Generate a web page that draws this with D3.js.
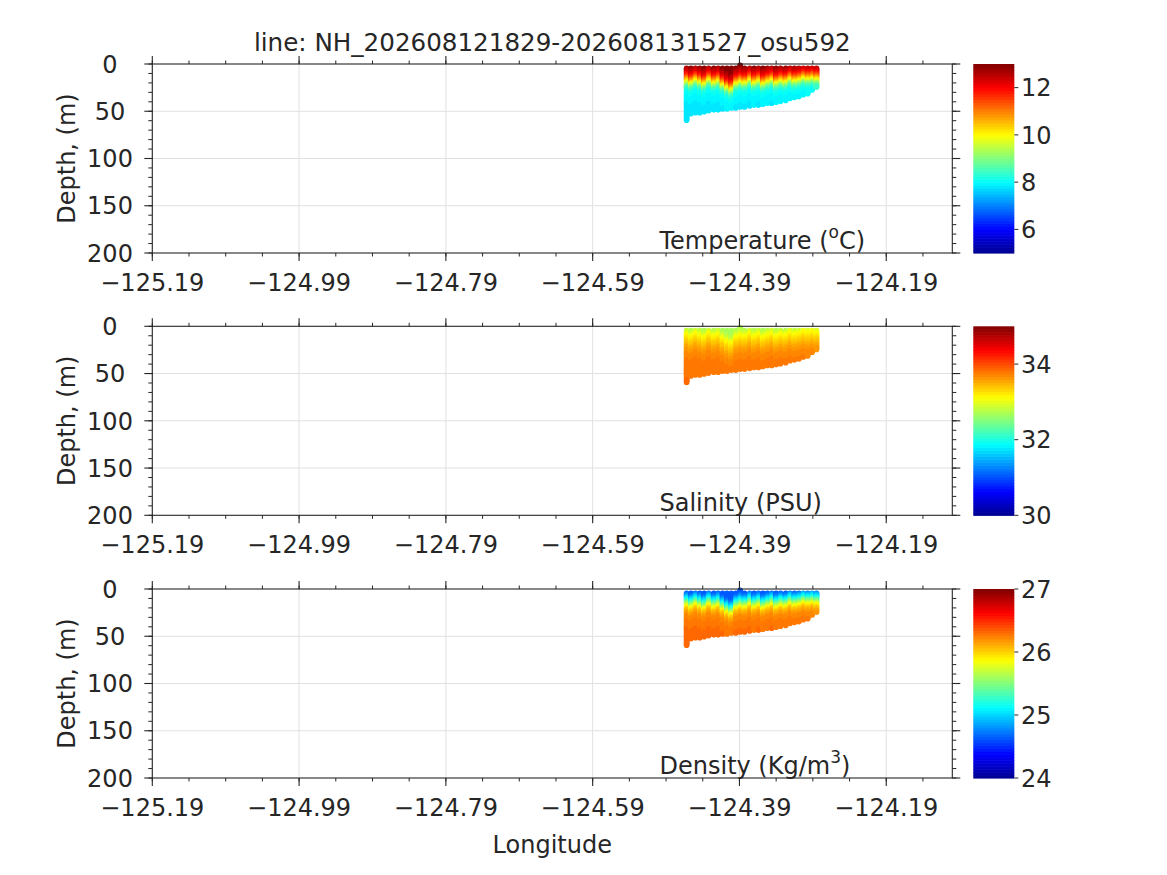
<!DOCTYPE html>
<html><head><meta charset="utf-8">
<script src="https://cdn.jsdelivr.net/npm/d3@7"></script>
<style>
body{margin:0;background:#fff}
svg{display:block;font-family:"DejaVu Sans",sans-serif}
</style>
</head><body>
<svg id="chart" width="1167" height="875"></svg>
<script>
// ---------------- data ----------------
const titleText = "line: NH_202608121829-202608131527_osu592";
const lonTicks = [-125.19, -124.99, -124.79, -124.59, -124.39, -124.19];
const lonDomain = [-125.19, -124.10];
const depthTicks = [0, 50, 100, 150, 200];
const depthDomain = [0, 200];

// glider profiles (longitude, top depth, bottom depth, thermocline offset in m)
const profileLon = [-124.462, -124.456, -124.450, -124.444, -124.438, -124.432, -124.425, -124.419, -124.413, -124.407,
                    -124.401, -124.395, -124.389, -124.383, -124.376, -124.370, -124.364, -124.358, -124.352, -124.346,
                    -124.340, -124.334, -124.327, -124.321, -124.315, -124.309, -124.303, -124.297, -124.291, -124.285];
const profileTop = [4.5, 4.5, 4.5, 4.5, 4.5, 4.5, 4.5, 4.5, 4.5, 4.5,
                    4.5, 4.5, 1.5, 4.5, 4.5, 4.5, 4.5, 4.5, 4.5, 4.5,
                    4.5, 4.5, 4.5, 4.5, 4.5, 4.5, 4.5, 4.5, 4.5, 4.5];
const profileBottom = [59.5, 53, 52, 51.5, 50.7, 50, 49.3, 49, 48.3, 47.6,
                       47, 46.5, 45.8, 45.5, 44.8, 44.4, 43.7, 43, 42.3, 41.7,
                       40.6, 39.5, 38.5, 37.1, 35.8, 34.7, 33.3, 31.5, 28.2, 24.8];
const profileShift = [0, 2, -1, 1, 3, -1, 2, 0, 4, 7,
                      9, 3, 1, 2, -1, 2, 0, 3, 1, -1,
                      2, 0, 1, -2, 0, -1, -3, -2, -3, -2];

// reference vertical profiles
const refDepth = [2, 4, 6, 9, 12, 15, 18, 21, 24, 28, 35, 45, 60];
const tempRef  = [12.9, 12.8, 12.55, 12.2, 11.8, 11.1, 10.3, 9.5, 8.8, 8.2, 7.95, 7.85, 7.8];
const salRef   = [32.72, 32.78, 32.92, 33.08, 33.2, 33.3, 33.42, 33.52, 33.6, 33.67, 33.75, 33.8, 33.84];
const densRef  = [24.62, 24.66, 24.75, 24.98, 25.22, 25.5, 25.8, 26.0, 26.12, 26.2, 26.27, 26.31, 26.33];

const tempRange = [5, 13], salRange = [30, 35], densRange = [24, 27];
const tempTicks = [6, 8, 10, 12], salTicks = [30, 32, 34], densTicks = [24, 25, 26, 27];

// ---------------- layout ----------------
const ink = "#262626", gridCol = "#e0e0e0";
const fs = 24;
const plotLeft = 152.3, plotRight = 952.3;
const panelTops = [64, 326.3, 589];
const panelH = 189;
const cbX = 973.3, cbW = 41;

const svg = d3.select("#chart");
const x = d3.scaleLinear().domain(lonDomain).range([plotLeft, plotRight]);
const fmtLon = d3.format(".2f");

const jet = d3.scaleLinear()
  .domain([0, 0.125, 0.375, 0.625, 0.875, 1])
  .range(["#000090", "#0000ff", "#00ffff", "#ffff00", "#ff0000", "#800000"]);
const nLevels = 64;

const panels = [
  {ref: tempRef, range: tempRange, ticks: tempTicks, label: "Temperature (", sup: "o", after: "C)"},
  {ref: salRef, range: salRange, ticks: salTicks, label: "Salinity (PSU)", sup: null, after: ""},
  {ref: densRef, range: densRange, ticks: densTicks, label: "Density (Kg/m", sup: "3", after: ")"}
];

svg.append("text").attr("x", (plotLeft + plotRight) / 2).attr("y", 51)
  .attr("text-anchor", "middle").attr("font-size", 24.6).attr("fill", ink).text(titleText);

panels.forEach((p, pi) => {
  const top = panelTops[pi], bottom = top + panelH;
  const y = d3.scaleLinear().domain(depthDomain).range([top, bottom]);
  const norm = d3.scaleLinear().domain(p.range).range([0, 1]).clamp(true);
  const colorOf = v => jet((Math.min(nLevels - 1, Math.floor(norm(v) * nLevels)) + 0.5) / nLevels);
  const g = svg.append("g");

  // grid
  g.selectAll(".gx").data(lonTicks).join("line")
    .attr("x1", d => x(d)).attr("x2", d => x(d)).attr("y1", top).attr("y2", bottom)
    .attr("stroke", gridCol).attr("stroke-width", 1);
  g.selectAll(".gy").data(depthTicks.slice(1, -1)).join("line")
    .attr("x1", plotLeft).attr("x2", plotRight).attr("y1", d => y(d)).attr("y2", d => y(d))
    .attr("stroke", gridCol).attr("stroke-width", 1);

  // data dots
  const pts = [];
  profileLon.forEach((lon, i) => {
    const prof = d3.scaleLinear().domain(refDepth).range(p.ref).clamp(true);
    d3.range(profileTop[i], profileBottom[i] + 0.01, 1).forEach(d => {
      pts.push({lon, d, v: prof(d - profileShift[i])});
    });
  });
  g.append("g").selectAll("circle").data(pts).join("circle")
    .attr("cx", d => x(d.lon)).attr("cy", d => y(d.d)).attr("r", 2.8)
    .attr("fill", d => colorOf(d.v));

  // box
  g.append("rect").attr("x", plotLeft).attr("y", top).attr("width", plotRight - plotLeft).attr("height", panelH)
    .attr("fill", "none").attr("stroke", ink).attr("stroke-width", 1.1);

  // x ticks (outward, top and bottom)
  const minorLon = d3.range(lonDomain[0], lonDomain[1], 0.05);
  [[bottom, 1], [top, -1]].forEach(([yy, s]) => {
    g.selectAll(null).data(minorLon).join("line")
      .attr("x1", d => x(d)).attr("x2", d => x(d)).attr("y1", yy).attr("y2", yy + s * 3.5)
      .attr("stroke", ink).attr("stroke-width", 1);
    g.selectAll(null).data(lonTicks).join("line")
      .attr("x1", d => x(d)).attr("x2", d => x(d)).attr("y1", yy).attr("y2", yy + s * 8)
      .attr("stroke", ink).attr("stroke-width", 1.1);
  });
  // y ticks (outward, left and right)
  const minorDepth = d3.range(0, 201, 10);
  [[plotLeft, -1], [plotRight, 1]].forEach(([xx, s]) => {
    g.selectAll(null).data(minorDepth).join("line")
      .attr("x1", xx).attr("x2", xx + s * 4).attr("y1", d => y(d)).attr("y2", d => y(d))
      .attr("stroke", ink).attr("stroke-width", 1);
    g.selectAll(null).data(depthTicks).join("line")
      .attr("x1", xx).attr("x2", xx + s * 8).attr("y1", d => y(d)).attr("y2", d => y(d))
      .attr("stroke", ink).attr("stroke-width", 1.1);
  });

  // tick labels
  g.selectAll(null).data(depthTicks).join("text")
    .attr("x", 110).attr("y", d => y(d) + 8.7).attr("text-anchor", "middle")
    .attr("font-size", fs).attr("fill", ink).text(d => d);
  g.selectAll(null).data(lonTicks).join("text")
    .attr("x", d => x(d)).attr("y", bottom + 37.5).attr("text-anchor", "middle")
    .attr("font-size", fs).attr("fill", ink).text(d => fmtLon(d));

  // y label
  g.append("text").attr("transform", `translate(75,${(top + bottom) / 2}) rotate(-90)`)
    .attr("text-anchor", "middle").attr("font-size", fs).attr("fill", ink).text("Depth, (m)");

  // variable label
  const lt = g.append("text").attr("x", 659.5).attr("y", bottom - 4).attr("font-size", fs).attr("fill", ink);
  lt.append("tspan").text(p.label);
  if (p.sup) {
    lt.append("tspan").attr("font-size", 17).attr("dy", -11).text(p.sup);
    lt.append("tspan").attr("dy", 11).text(p.after);
  }

  // colorbar
  const cy = d3.scaleLinear().domain(p.range).range([bottom, top]);
  const cb = svg.append("g");
  cb.selectAll("rect").data(d3.range(nLevels)).join("rect")
    .attr("x", cbX).attr("width", cbW)
    .attr("y", k => bottom - (k + 1) * panelH / nLevels)
    .attr("height", panelH / nLevels + 0.6)
    .attr("fill", k => jet((k + 0.5) / nLevels));
  cb.selectAll("line").data(p.ticks).join("line")
    .attr("x1", cbX + cbW).attr("x2", cbX + cbW + 4).attr("y1", d => cy(d)).attr("y2", d => cy(d))
    .attr("stroke", ink).attr("stroke-width", 1);
  cb.selectAll("text").data(p.ticks).join("text")
    .attr("x", 1021).attr("y", d => cy(d) + 8.7).attr("font-size", fs).attr("fill", ink).text(d => d);
});

svg.append("text").attr("x", (plotLeft + plotRight) / 2).attr("y", 853)
  .attr("text-anchor", "middle").attr("font-size", fs).attr("fill", ink).text("Longitude");
</script>
</body></html>
